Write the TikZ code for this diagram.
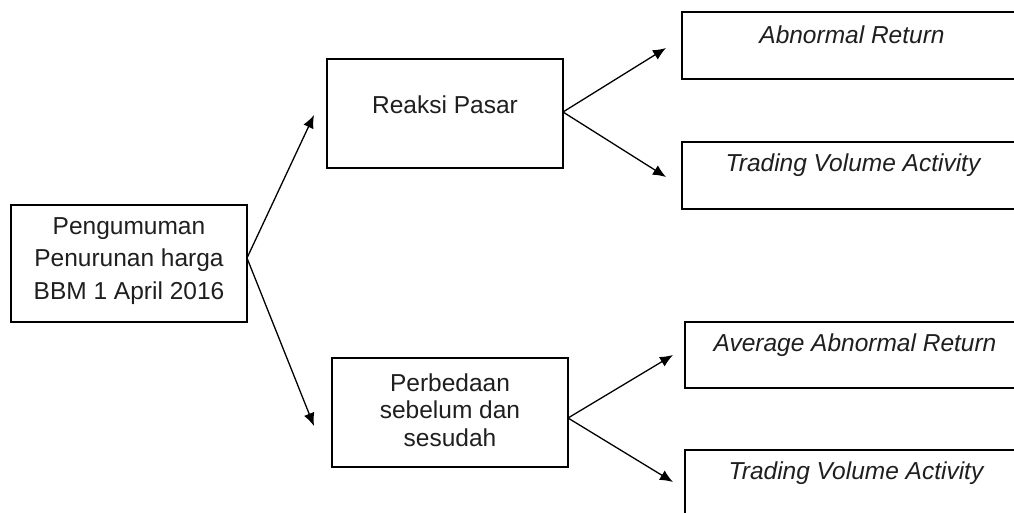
\documentclass[tikz,border=0pt]{standalone}
\usepackage{fontspec}
\setmainfont{Liberation Sans}
\usetikzlibrary{arrows.meta}
\begin{document}
\begin{tikzpicture}[x=1pt,y=-1pt,
  box/.style={draw=black, line width=1.3pt, inner sep=0pt, outer sep=0pt, anchor=north west},
  txt/.style={font=\fontsize{24.5}{32.5}\selectfont, text=black!88, inner sep=0pt, align=center},
  itxt/.style={font=\fontsize{24.5}{32.5}\selectfont\itshape, text=black!88, inner sep=0pt},
  arr/.style={line width=1.3pt, -{Latex[length=13pt,width=11pt]}}]
\path[use as bounding box, clip] (0,0) rectangle (1014,512);
\fill[white] (0,0) rectangle (1014,512);
% boxes
\node[box, minimum width=236pt, minimum height=117pt] (pg) at (11,205) {};
\node[txt] (pgt) at (129,261) {Pengumuman\\Penurunan harga\\BBM 1 April 2016};
\node[box, minimum width=236pt, minimum height=109pt] (rp) at (327,59) {};
\node[txt] (rpt) at (445,105) {Reaksi Pasar};
\node[box, minimum width=236pt, minimum height=109pt] (pb) at (332,358) {};
\node[txt, font=\fontsize{24.5}{27.5}\selectfont] (pbt) at (450,410) {Perbedaan\\sebelum dan\\sesudah};
\node[box, minimum width=350pt, minimum height=67pt] (ar) at (682,12) {};
\node[itxt] (art) at (852,35) {Abnormal Return};
\node[box, minimum width=350pt, minimum height=67pt] (tv1) at (682,142) {};
\node[itxt] (tv1t) at (853,165) {Trading Volume Activity};
\node[box, minimum width=350pt, minimum height=66pt] (aar) at (685,322) {};
\node[itxt] (aart) at (855,345) {Average Abnormal Return};
\node[box, minimum width=350pt, minimum height=90pt] (tv2) at (685,450) {};
\node[itxt] (tv2t) at (856,473) {Trading Volume Activity};
% arrow ends
\coordinate (e1) at (314,115);
\coordinate (e2) at (314,426);
\coordinate (e3) at (666,48);
\coordinate (e4) at (666,177);
\coordinate (e5) at (673,355);
\coordinate (e6) at (673,482);
% connectors
\draw[arr] ([yshift=5.5pt]pg.east) -- (e1);
\draw[arr] ([yshift=5.5pt]pg.east) -- (e2);
\draw[arr] ([yshift=1.5pt]rp.east) -- (e3);
\draw[arr] ([yshift=1.5pt]rp.east) -- (e4);
\draw[arr] ([yshift=-5.5pt]pb.east) -- (e5);
\draw[arr] ([yshift=-5.5pt]pb.east) -- (e6);
\end{tikzpicture}
\end{document}
